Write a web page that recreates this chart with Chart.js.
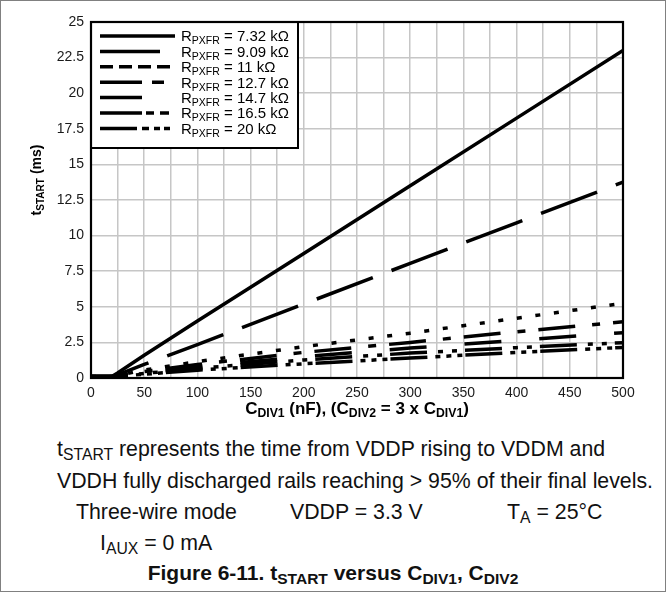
<!DOCTYPE html>
<html>
<head>
<meta charset="utf-8">
<script src="https://cdn.jsdelivr.net/npm/chart.js@4.4.1/dist/chart.umd.min.js"></script>
<style>
  body { margin: 0; background: #fff; }
  #page { position: relative; width: 666px; height: 592px; overflow: hidden; background: #fff;
          font-family: "Liberation Sans", Arial, sans-serif; color: #111; }
  #edge { position: absolute; left: 0; top: 0; width: 666px; height: 592px; box-sizing: border-box;
          border: 1px solid #808080; pointer-events: none; }
  canvas { position: absolute; left: 0; top: 0; }
  .cap { position: absolute; font-size: 21.3px; line-height: 24px; white-space: nowrap; }
  .cap sub { font-size: 0.74em; vertical-align: -0.28em; line-height: 0; }
  .fig { font-weight: bold; font-size: 21px; left: 0; width: 666px; text-align: center; }
</style>
</head>
<body>
<div id="page">
  <canvas id="chart" width="666" height="425"></canvas>
  <div class="cap" style="left:57px;top:437px">t<sub>START</sub> represents the time from VDDP rising to VDDM and</div>
  <div class="cap" style="left:57px;top:469px">VDDH fully discharged rails reaching &gt; 95% of their final levels.</div>
  <div class="cap" style="left:76px;top:500px">Three-wire mode</div>
  <div class="cap" style="left:290px;top:500px">VDDP = 3.3 V</div>
  <div class="cap" style="left:507px;top:500px">T<sub>A</sub> = 25°C</div>
  <div class="cap" style="left:100px;top:531px">I<sub>AUX</sub> = 0 mA</div>
  <div class="cap fig" style="top:561px">Figure 6-11. t<sub>START</sub> versus C<sub>DIV1</sub>, C<sub>DIV2</sub></div>
  <div id="edge"></div>
</div>
<script>
// Data (x in nF, t in ms)
const cdiv = [0, 20, 25, 50, 100, 200, 300, 400, 500];
const rpxfr = ['7.32', '9.09', '11', '12.7', '14.7', '16.5', '20'];
const t732 = [0.1, 0.12, 0.35, 1.6, 4.0, 8.75, 13.5, 18.25, 23.0];
const t909 = [0.1, 0.1, 0.22, 0.95, 2.35, 5.2, 8.05, 10.9, 13.75];
const t11  = [0.1, 0.1, 0.18, 0.55, 1.15, 2.2, 3.15, 4.2, 5.25];
const t127 = [0.1, 0.1, 0.16, 0.45, 0.95, 1.8, 2.5, 3.25, 3.95];
const t147 = [0.1, 0.1, 0.15, 0.38, 0.8, 1.5, 2.1, 2.65, 3.18];
const t165 = [0.1, 0.1, 0.14, 0.32, 0.68, 1.27, 1.75, 2.13, 2.48];
const t20  = [0.1, 0.1, 0.13, 0.26, 0.55, 1.0, 1.4, 1.8, 2.15];
const yTicks = [0, 2.5, 5, 7.5, 10, 12.5, 15, 17.5, 20, 22.5, 25];

// Line styles (plot pattern and legend sample pattern differ a bit in the original)
const plotDash = [[], [60, 20], [5, 13.7], [37, 17, 8, 13], [37, 38], [37, 11, 5, 9, 5, 8], [37, 8, 5, 6, 5, 6, 5, 3]];
const keyDash = [[], [60, 20], [13, 6], [42, 10, 12, 20], [42, 40], [42, 4, 8, 6, 9, 20], [37, 5, 7, 5, 6, 4, 6, 20]];

const FONT = '"Liberation Sans", Arial, sans-serif';
const series = [t732, t909, t11, t127, t147, t165, t20];

const datasets = series.map((vals, i) => ({
  label: 'RPXFR = ' + rpxfr[i] + ' kΩ',
  data: vals.map((v, j) => ({ x: cdiv[j], y: v })),
  borderColor: '#000',
  borderWidth: 3.5,
  borderDash: plotDash[i],
  borderCapStyle: 'butt',
  pointRadius: 0,
  tension: 0,
  fill: false
}));

// draw text runs with subscripts, centred on x, y = baseline
function richText(ctx, parts, x, y, size, bold) {
  const f = s => (bold ? 'bold ' : '') + s + 'px ' + FONT;
  let w = 0;
  parts.forEach(([t, sub]) => { ctx.font = f(sub ? size * 0.72 : size); w += ctx.measureText(t).width; });
  let cx = x - w / 2;
  parts.forEach(([t, sub]) => {
    ctx.font = f(sub ? size * 0.72 : size);
    ctx.fillText(t, cx, sub ? y + size * 0.2 : y);
    cx += ctx.measureText(t).width;
  });
}

const decor = {
  id: 'decor',
  afterDatasetsDraw(chart) {
    const { ctx, chartArea: a } = chart;
    ctx.save();
    // legend box
    const bx = a.left, by = a.top, bw = 207, bh = 126;
    ctx.setLineDash([]);
    ctx.fillStyle = '#fff';
    ctx.fillRect(bx, by, bw, bh);
    ctx.lineWidth = 2;
    ctx.strokeStyle = '#000';
    ctx.strokeRect(bx, by, bw, bh);
    ctx.fillStyle = '#000';
    ctx.textBaseline = 'alphabetic';
    ctx.textAlign = 'left';
    chart.data.datasets.forEach((ds, i) => {
      const y = by + 14 + i * 15.4;
      ctx.beginPath();
      ctx.setLineDash(keyDash[i]);
      ctx.lineWidth = 3.5;
      ctx.lineCap = 'butt';
      ctx.moveTo(bx + 9, y);
      ctx.lineTo(bx + 84, y);
      ctx.stroke();
      ctx.setLineDash([]);
      let x = bx + 90;
      ctx.font = '15px ' + FONT;
      ctx.fillText('R', x, y + 5.4);
      x += ctx.measureText('R').width;
      ctx.font = '10.5px ' + FONT;
      ctx.fillText('PXFR', x, y + 8.4);
      x += ctx.measureText('PXFR').width;
      ctx.font = '15px ' + FONT;
      ctx.fillText(' = ' + rpxfr[i] + ' kΩ', x, y + 5.4);
    });
    // plot frame
    ctx.lineWidth = 2.2;
    ctx.strokeRect(a.left, a.top, a.right - a.left, a.bottom - a.top);
    // axis titles
    richText(ctx, [['C'], ['DIV1', 1], [' (nF), (C'], ['DIV2', 1], [' = 3 x C'], ['DIV1', 1], [')']], 357, 414, 17, true);
    ctx.translate(41, 180);
    ctx.rotate(-Math.PI / 2);
    richText(ctx, [['t'], ['START', 1], [' (ms)']], 0, 0, 14, true);
    ctx.restore();
  }
};

const gridStyle = { color: '#c6c6c6', lineWidth: 1.5, drawTicks: false };

new Chart(document.getElementById('chart'), {
  type: 'line',
  data: { datasets },
  options: {
    responsive: false,
    animation: false,
    layout: { padding: { top: 22, right: 43, left: 0, bottom: 0 } },
    plugins: { legend: { display: false }, tooltip: { enabled: false } },
    scales: {
      x: {
        type: 'linear', min: 0, max: 500,
        afterFit(s) { s.height = 47; },
        grid: gridStyle,
        border: { display: false },
        ticks: {
          stepSize: 25, autoSkip: false, maxRotation: 0, padding: 7, color: '#1a1a1a',
          font: { family: FONT, size: 14 },
          callback: v => (v % 50 === 0 ? v : '')
        }
      },
      y: {
        type: 'linear', min: 0, max: 25,
        afterFit(s) { s.width = 91; },
        afterBuildTicks(s) { s.ticks = yTicks.map(v => ({ value: v })); },
        grid: gridStyle,
        border: { display: false },
        ticks: { padding: 7, color: '#1a1a1a', font: { family: FONT, size: 14 } }
      }
    }
  },
  plugins: [decor]
});
</script>
</body>
</html>
